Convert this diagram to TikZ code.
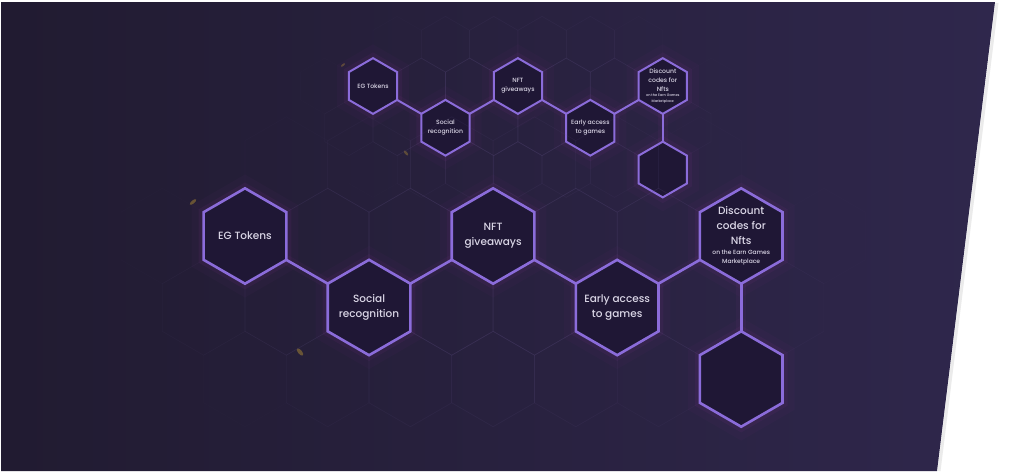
\documentclass[tikz,border=0pt]{standalone}
\usepackage{fontspec}
\setmainfont{Poppins}[UprightFont={* Medium}]
\usetikzlibrary{shapes.geometric}

\definecolor{bgleft}{RGB}{33,27,49}
\definecolor{bgmid}{RGB}{34,25,54}
\definecolor{bgright}{RGB}{47,39,76}
\definecolor{hexline}{RGB}{139,108,218}
\definecolor{hexfill}{RGB}{31,23,53}
\definecolor{gridline}{RGB}{100,84,138}
\definecolor{labeltext}{RGB}{218,214,230}
\definecolor{glow}{RGB}{130,50,140}
\definecolor{speck}{RGB}{160,128,52}

\newcommand{\subtxt}{\fontsize{6}{8}\selectfont}

\tikzset{
  cell/.style={regular polygon, regular polygon sides=6, shape border rotate=30,
    minimum size=95.4pt, inner sep=0pt, outer sep=0pt,
    draw=hexline, fill=hexfill,
    preaction={draw=glow, line width=24pt, draw opacity=0.05},
    preaction={draw=glow, line width=10pt, draw opacity=0.10}},
  link/.style={draw=hexline,
    preaction={draw=glow, line width=10pt, draw opacity=0.08}},
  txt/.style={text=labeltext, font=\fontsize{10.5}{15}\selectfont, align=center},
}

\begin{document}
\begin{tikzpicture}[x=1pt, y=-1pt]
  \useasboundingbox (0,0) rectangle (1032,474);
  % backdrop
  \fill[white] (0,0) rectangle (1032,474);
  \draw[black!8, line width=3pt] (997,3) -- (939,471);
  \shade[left color=bgleft, middle color=bgmid, right color=bgright]
    (1,2) -- (995,2) -- (937,471) -- (1,471) -- cycle;
  % gold specks
  \fill[speck, opacity=0.55, rotate around={40:(193,202)}] (193,202) ellipse (4 and 1.6);
  \fill[speck, opacity=0.55, rotate around={-50:(300,352)}] (300,352) ellipse (4.5 and 2);
  \fill[speck, opacity=0.45, rotate around={-50:(406,153)}] (406,153) ellipse (3 and 1.3);
  \fill[speck, opacity=0.45, rotate around={40:(343,65)}] (343,65) ellipse (2.5 and 1);
  % small copy, then large copy
  \foreach \ox/\oy/\sc/\lw/\p in {373/86/0.584/2/s, 245/236/1/2.6/l} {
    \begin{scope}[shift={(\ox,\oy)}, scale=\sc, transform shape]
      % faint honeycomb
      \foreach \r in {-1,...,3} {
        \foreach \q in {-3,...,8} {
          \pgfmathsetmacro\cx{82.7*(\q+\r/2)}
          \pgfmathsetmacro\cy{71.5*\r}
          \pgfmathsetmacro\op{max(0,0.2*(1-((\cx-250)/370)^2-((\cy-40)/160)^2))}
          \draw[gridline, line width=0.7pt, opacity=\op] (\cx,\cy)
            +(90:47.7) -- +(150:47.7) -- +(210:47.7) -- +(270:47.7)
            -- +(330:47.7) -- +(30:47.7) -- cycle;
        }
      }
      % highlighted path
      \node[cell, line width=\lw pt] (\p eg) at (0,0) {};
      \node[cell, line width=\lw pt] (\p soc) at (124.05,71.5) {};
      \node[cell, line width=\lw pt] (\p nft) at (248.1,0) {};
      \node[cell, line width=\lw pt] (\p early) at (372.15,71.5) {};
      \node[cell, line width=\lw pt] (\p disc) at (496.2,0) {};
      \node[cell, line width=\lw pt] (\p blank) at (496.2,143) {};
      \draw[link, line width=\lw pt] (\p eg.-30) -- (\p soc.150);
      \draw[link, line width=\lw pt] (\p soc.30) -- (\p nft.210);
      \draw[link, line width=\lw pt] (\p nft.-30) -- (\p early.150);
      \draw[link, line width=\lw pt] (\p early.30) -- (\p disc.210);
      \draw[link, line width=\lw pt] (\p disc.270) -- (\p blank.90);
      % labels
      \node[txt] (\p egtxt) at (\p eg) {EG Tokens};
      \node[txt] (\p soctxt) at (\p soc) {Social\\recognition};
      \node[txt] (\p nfttxt) at (\p nft) {NFT\\giveaways};
      \node[txt] (\p earlytxt) at (\p early) {Early access\\to games};
      \node[txt] (\p disctxt) at (\p disc)
        {Discount\\codes for\\Nfts\\[-5pt]\subtxt on the Earn Games\\[-6pt]\subtxt Marketplace};
    \end{scope}
  }
\end{tikzpicture}
\end{document}
